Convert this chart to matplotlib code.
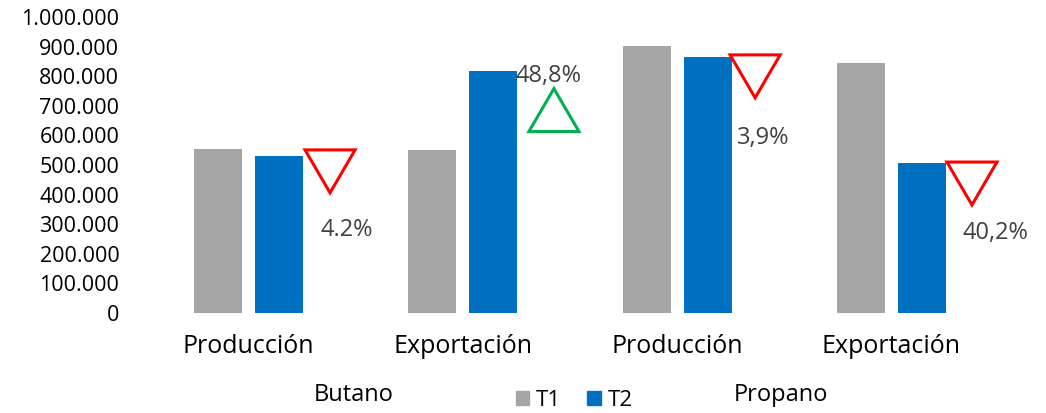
import matplotlib
matplotlib.use("Agg")
import matplotlib.pyplot as plt
from matplotlib.patches import Polygon, Patch
from matplotlib.ticker import FuncFormatter

categories = ["Producción", "Exportación", "Producción", "Exportación"]
groups = ["Butano", "Propano"]
t1 = [554000, 551000, 902000, 846000]
t2 = [530000, 817000, 866000, 506000]
changes = ["4.2%", "48,8%", "3,9%", "40,2%"]
direction = ["down", "up", "down", "down"]
series_names = ["T1", "T2"]

GRAY = "#A5A5A5"
BLUE = "#0070C0"
FONT = "Open Sans"

fig = plt.figure(figsize=(10.46, 4.13), dpi=100)
ax = fig.add_axes([141.5 / 1046, 100 / 413, 857 / 1046, 296 / 413])

x = list(range(len(categories)))
w = 48 / 214
off = 30.5 / 214
ax.bar([i - off for i in x], t1, width=w, color=GRAY, label=series_names[0])
ax.bar([i + off for i in x], t2, width=w, color=BLUE, label=series_names[1])

ax.set_xlim(-0.5, 3.5)
ax.set_ylim(0, 1000000)
ax.set_yticks(range(0, 1000001, 100000))
ax.yaxis.set_major_formatter(FuncFormatter(lambda v, p: f"{int(v):,}".replace(",", ".")))
ax.set_xticks(x)
ax.set_xticklabels(categories, fontsize=18, family=FONT)
ax.tick_params(axis="both", length=0, colors="black")
ax.tick_params(axis="y", labelsize=15.5, pad=16)
ax.tick_params(axis="x", pad=15)
for lab in ax.get_yticklabels():
    lab.set_family(FONT)
for s in ax.spines.values():
    s.set_visible(False)

# triangle indicators (positions in data units)
tri_x = [0.38, 0.425, 0.364, 0.376]
tri_top = [551000, 758000, 872000, 510000]
tri_h = 145000
tri_w = 50 / 214
txt_x = [0.46, 0.4, 0.402, 0.487]
txt_y = [282000, 800000, 592000, 270000]
for i in range(4):
    cx = i + tri_x[i]
    if direction[i] == "down":
        pts = [(cx - tri_w / 2, tri_top[i]), (cx + tri_w / 2, tri_top[i]), (cx, tri_top[i] - tri_h)]
        col = "#FF0000"
    else:
        pts = [(cx - tri_w / 2, tri_top[i] - tri_h), (cx + tri_w / 2, tri_top[i] - tri_h), (cx, tri_top[i])]
        col = "#00B050"
    ax.add_patch(Polygon(pts, closed=True, fill=False, edgecolor=col, linewidth=2.2,
                         joinstyle="miter", clip_on=False))
    ax.text(i + txt_x[i], txt_y[i], changes[i], ha="center", va="center",
            fontsize=17, color="#404040", family=FONT)

fig.text(354 / 1046, 1 - 395 / 413, groups[0], ha="center", va="center", fontsize=17, family=FONT)
fig.text(781 / 1046, 1 - 395 / 413, groups[1], ha="center", va="center", fontsize=17, family=FONT)

handles = [Patch(color=GRAY), Patch(color=BLUE)]
fig.legend(handles, series_names, loc="center", bbox_to_anchor=(574 / 1046, 1 - 400 / 413),
           ncol=2, frameon=False, prop={"family": FONT, "size": 16},
           handlelength=0.6, handleheight=0.6, handletextpad=0.3, columnspacing=1.2,
           borderpad=0.0, borderaxespad=0.0)

fig.savefig("out.png", dpi=100)
